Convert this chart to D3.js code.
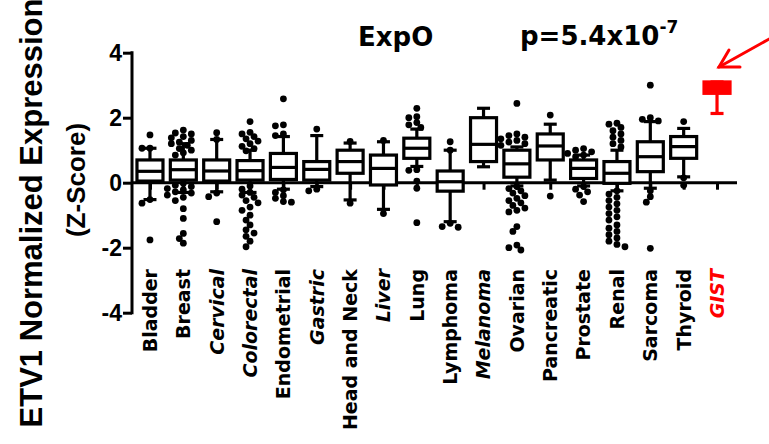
<html>
<head>
<meta charset="utf-8">
<script src="https://d3js.org/d3.v7.min.js"></script>
<style>
body { margin: 0; background: white; }
.comic { font-family: "DejaVu Sans", sans-serif; font-weight: bold; }
.arial { font-family: "Liberation Sans", Arial, sans-serif; font-weight: bold; }
</style>
</head>
<body>
<svg id="chart" width="769" height="444"></svg>
<script>
// categories and box statistics
var cats = ["Bladder","Breast","Cervical","Colorectal","Endometrial","Gastric","Head and Neck","Liver","Lung",
            "Lymphoma","Melanoma","Ovarian","Pancreatic","Prostate","Renal","Sarcoma","Thyroid","GIST"];
var italicCats = ["Cervical","Colorectal","Gastric","Liver","Melanoma","GIST"];
var q1     = [0.05, 0.08, 0.05, 0.08, 0.10, 0.08, 0.29, -0.07, 0.75, -0.26, 0.65, 0.17, 0.70, 0.13, -0.02, 0.34, 0.75, 2.75];
var median = [0.35, 0.40, 0.36, 0.37, 0.47, 0.41, 0.65, 0.44, 1.06, 0.03, 1.18, 0.58, 1.13, 0.44, 0.29, 0.80, 1.11, 2.92];
var q3     = [0.70, 0.70, 0.70, 0.68, 0.90, 0.65, 1.00, 0.85, 1.37, 0.36, 2.00, 1.00, 1.50, 0.70, 0.65, 1.26, 1.42, 3.10];
var whiskLo= [-0.52, -0.30, -0.28, -0.30, -0.20, -0.12, -0.53, -0.82, 0.50, -1.20, 0.49, -0.10, 0.08, -0.10, -0.25, -0.17, 0.18, 2.13];
var whiskHi= [1.06, 1.20, 1.33, 1.00, 1.42, 1.45, 1.22, 1.26, 1.65, 1.00, 2.29, 1.10, 1.80, 0.85, 1.00, 1.88, 1.67, 3.10];
var outliers = [
  [1.47, 1.06, 1.06, -0.52, -0.63, -1.76],
  [1.62, 1.53, 1.50, 1.42, 1.38, 1.30, 1.25, 1.20, 1.15, 1.05, 1.00, 0.92, 0.85, -0.02, -0.08, -0.12, -0.18, -0.22, -0.28, -0.32, -0.38, -0.45, -0.55, -0.80, -1.10, -1.56, -1.72, -1.86],
  [1.54, 1.33, -0.32, -0.43, -1.20],
  [1.88, 1.55, 1.50, 1.42, 1.35, 1.28, 1.20, 1.12, 1.05, 0.98, -0.10, -0.20, -0.30, -0.38, -0.45, -0.55, -0.62, -0.75, -0.85, -1.00, -1.15, -1.30, -1.45, -1.55, -1.65, -1.80, -1.97],
  [2.58, 1.78, 1.75, 1.50, 1.45, -0.22, -0.30, -0.40, -0.48, -0.58, -0.60],
  [1.65, -0.20, -0.25],
  [1.27, -0.63],
  [1.30, -0.95],
  [2.29, 2.03, 2.00, 1.85, 1.78, 1.70, 0.40, 0.38, 0.05, -0.17, -1.23],
  [1.26, 1.00, -1.25, -1.37, -1.35],
  [],
  [2.44, 1.50, 1.45, 1.40, 1.35, 1.30, 1.25, 1.20, 1.15, -0.12, -0.18, -0.25, -0.32, -0.40, -0.48, -0.55, -0.62, -0.70, -0.78, -0.85, -0.90, -1.35, -1.50, -1.92, -2.00, -2.07],
  [2.08, -0.41],
  [1.05, 1.00, 0.95, 0.90, 0.85, 0.80, -0.12, -0.20, -0.28, -0.38, -0.58],
  [1.83, 1.80, 1.70, 1.60, 1.50, 1.40, 1.30, 1.20, 1.10, -0.25, -0.35, -0.45, -0.55, -0.65, -0.75, -0.85, -0.95, -1.05, -1.15, -1.30, -1.40, -1.50, -1.60, -1.70, -1.80, -1.90, -1.97],
  [3.00, 2.00, 1.95, 1.90, -0.25, -0.43, -0.60, -2.02],
  [1.88, 0.15, -0.08],
  []
];
var yTicks = [-4, -2, 0, 2, 4];

var svg = d3.select("#chart");
var x = d3.scalePoint().domain(cats).range([133.3, 733.7]).padding(0.5);
var y = d3.scaleLinear().domain([-4, 4]).range([312.7, 52.7]);
var boxW = 26, capW = 13, r = 3.4;

// y axis
var ya = svg.append("g").attr("transform", "translate(132,0)")
  .call(d3.axisLeft(y).tickValues(yTicks).tickSize(9).tickSizeOuter(0).tickFormat(function(d) { return String(d); }));
ya.select(".domain").attr("stroke-width", 3).attr("d", "M0," + (y(-4) + 1.5) + "V" + (y(4) - 1.5));
ya.selectAll(".tick line").attr("stroke-width", 3);
ya.selectAll(".tick text").attr("class", "arial").attr("font-size", 23).attr("fill", "black").attr("x", -10).attr("dy", "0.36em");

// x axis on zero line
var xa = svg.append("g").attr("transform", "translate(0," + y(0) + ")")
  .call(d3.axisBottom(x).tickSize(7).tickSizeOuter(0).tickFormat(""));
xa.select(".domain").attr("stroke-width", 3).attr("d", "M132,0H737");
xa.selectAll(".tick line").attr("stroke-width", 3);

// boxes
var g = svg.append("g");
cats.forEach(function(c, i) {
  var cx = x(c);
  var col = c === "GIST" ? "#ff0000" : "black";
  var fill = c === "GIST" ? "#ff0000" : "white";
  g.append("line").attr("x1", cx).attr("x2", cx).attr("y1", y(q3[i])).attr("y2", y(whiskHi[i])).attr("stroke", col).attr("stroke-width", 3.2);
  g.append("line").attr("x1", cx).attr("x2", cx).attr("y1", y(q1[i])).attr("y2", y(whiskLo[i])).attr("stroke", col).attr("stroke-width", 3.2);
  g.append("line").attr("x1", cx - capW / 2).attr("x2", cx + capW / 2).attr("y1", y(whiskHi[i])).attr("y2", y(whiskHi[i])).attr("stroke", col).attr("stroke-width", 3.2);
  g.append("line").attr("x1", cx - capW / 2).attr("x2", cx + capW / 2).attr("y1", y(whiskLo[i])).attr("y2", y(whiskLo[i])).attr("stroke", col).attr("stroke-width", 3.2);
  g.append("rect").attr("x", cx - boxW / 2).attr("width", boxW).attr("y", y(q3[i])).attr("height", y(q1[i]) - y(q3[i]))
    .attr("fill", fill).attr("stroke", col).attr("stroke-width", 3.2);
  g.append("line").attr("x1", cx - boxW / 2).attr("x2", cx + boxW / 2).attr("y1", y(median[i])).attr("y2", y(median[i])).attr("stroke", col).attr("stroke-width", 3.2);

  // simple swarm placement of the points
  var placed = [];
  outliers[i].slice().sort(function(a, b) { return b - a; }).forEach(function(v) {
    var py = y(v), px = cx;
    for (var k = 0; k < 12; k++) {
      var off = (k % 2 === 1 ? -1 : 1) * Math.ceil(k / 2) * 4;
      var ok = placed.every(function(p) { return Math.hypot(p[0] - (cx + off), p[1] - py) >= 2 * r - 1; });
      if (ok) { px = cx + off; break; }
    }
    placed.push([px, py]);
  });
  g.selectAll(null).data(placed).enter().append("circle")
    .attr("cx", function(d) { return d[0]; }).attr("cy", function(d) { return d[1]; })
    .attr("r", r).attr("fill", "black");
});

// category labels
svg.append("g").selectAll("text").data(cats).enter().append("text")
  .attr("class", "comic")
  .attr("transform", function(d) { return "translate(" + x(d) + ",269) rotate(-90)"; })
  .attr("dy", "0.36em")
  .attr("text-anchor", "end")
  .attr("font-size", 19)
  .attr("font-style", function(d) { return italicCats.indexOf(d) >= 0 ? "italic" : "normal"; })
  .attr("fill", function(d) { return d === "GIST" ? "#ff0000" : "black"; })
  .text(function(d) { return d; });

// axis titles
svg.append("text").attr("class", "arial").attr("font-size", 31)
  .attr("transform", "translate(42,213) rotate(-90)").attr("text-anchor", "middle")
  .text("ETV1 Normalized Expression");
svg.append("text").attr("class", "arial").attr("font-size", 26)
  .attr("transform", "translate(85,180) rotate(-90)").attr("text-anchor", "middle")
  .text("(Z-Score)");

// titles
svg.append("text").attr("class", "comic").attr("font-size", 26).attr("x", 358).attr("y", 46).text("ExpO");
var pt = svg.append("text").attr("class", "comic").attr("font-size", 26).attr("x", 520).attr("y", 45);
pt.append("tspan").text("p=5.4x10");
pt.append("tspan").attr("font-size", 17).attr("dy", -12).text("-7");

// red arrow pointing at GIST
var arrow = svg.append("g").attr("stroke", "#ff0000").attr("stroke-width", 3).attr("fill", "none").attr("stroke-linecap", "round");
arrow.append("line").attr("x1", 771).attr("y1", 38).attr("x2", 719).attr("y2", 67);
arrow.append("polyline").attr("points", "740,67 719,67 729,50");
</script>
</body>
</html>
